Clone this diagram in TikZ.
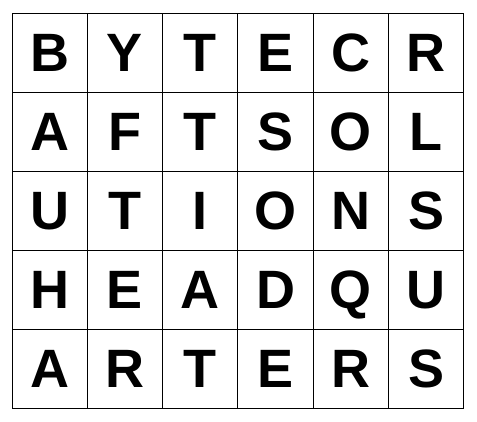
\documentclass[tikz,border=0pt]{standalone}
\usepackage{fontspec}
\setsansfont{Liberation Sans}
\begin{document}
\begin{tikzpicture}[x=1pt,y=-1pt,
    letter/.style={font=\sffamily\bfseries\fontsize{54}{60}\selectfont,
        inner sep=0pt,text height=38.7pt,text depth=0pt}]
    \pgfmathsetmacro{\W}{75.33}
    \pgfmathsetmacro{\H}{79}
    \pgfmathsetmacro{\xo}{12}
    \pgfmathsetmacro{\yo}{13}

    \useasboundingbox (0,0) rectangle (477,421);

    % grid
    \foreach \c in {0,...,6}
        \draw[line width=1pt] (\xo+\c*\W,\yo) -- (\xo+\c*\W,\yo+5*\H);
    \foreach \r in {0,...,5}
        \draw[line width=1pt] (\xo,\yo+\r*\H) -- (\xo+6*\W,\yo+\r*\H);

    % letters
    \foreach \ch [count=\i from 0] in {B,Y,T,E,C,R,A,F,T,S,O,L,U,T,I,O,N,S,H,E,A,D,Q,U,A,R,T,E,R,S} {
        \pgfmathtruncatemacro{\r}{div(\i,6)}
        \pgfmathtruncatemacro{\c}{mod(\i,6)}
        \node[letter] (L\r-\c) at (\xo+\c*\W+\W/2,\yo+\r*\H+\H/2) {\ch};
    }
\end{tikzpicture}
\end{document}
